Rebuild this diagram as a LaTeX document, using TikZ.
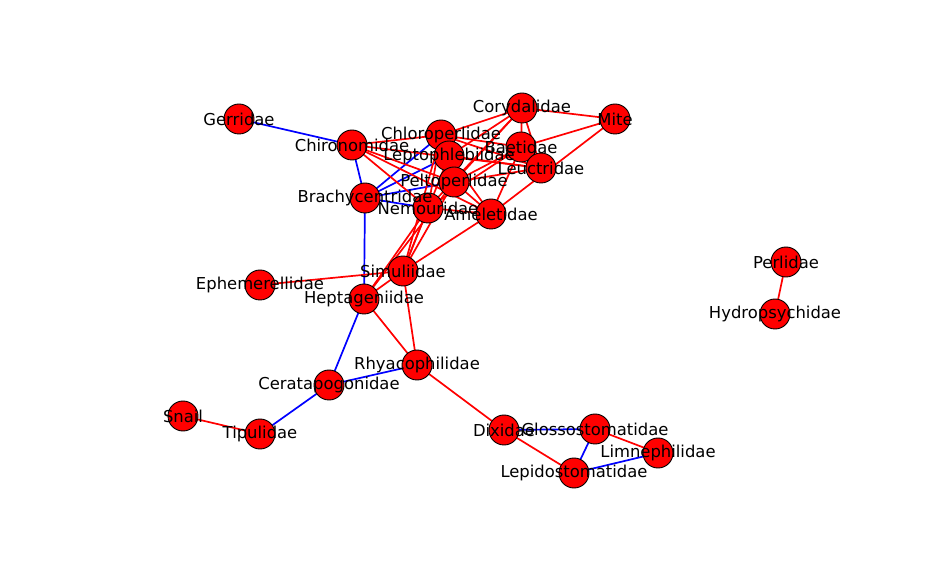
\documentclass[tikz,border=0pt]{standalone}
\usepackage{fontspec}
\setmainfont{DejaVu Sans}
\pgfdeclarelayer{edges}
\pgfsetlayers{edges,main}
\tikzset{
  vtx/.style={circle, fill=red, draw=black, line width=0.9pt, minimum size=30pt, inner sep=0pt},
  lbl/.style={inner sep=0pt, font=\fontsize{16.4}{18}\selectfont, text=black},
  redge/.style={draw=red, line width=1.7pt},
  bedge/.style={draw=blue, line width=1.7pt},
}
\begin{document}
\begin{tikzpicture}[x=1pt, y=-1pt]
\useasboundingbox (0,0) rectangle (946,577);
% vertices
\foreach \n/\x/\y in {
  Gerridae/239/119, Chironomidae/352/145, Chloroperlidae/441/135,
  Leptophlebiidae/449/156, Corydalidae/522/108, Mite/615/119,
  Baetidae/521/147, Leuctridae/541/168, Peltoperlidae/454/182,
  Brachycentridae/365/198, Nemouridae/428/208, Ameletidae/491/214,
  Simuliidae/403/271, Ephemerellidae/260/285, Heptageniidae/364/299,
  Rhyacophilidae/417/365, Ceratapogonidae/329/385, Snail/183/416,
  Tipulidae/260/434, Dixidae/504/430, Glossostomatidae/595/429,
  Limnephilidae/658/453, Lepidostomatidae/574/473,
  Perlidae/786/262, Hydropsychidae/775/314}
  \node[vtx] (\n) at (\x,\y) {};
% connectors
\begin{pgfonlayer}{edges}
\foreach \a/\b in {
  Gerridae/Chironomidae, Chironomidae/Brachycentridae,
  Brachycentridae/Chloroperlidae, Brachycentridae/Leptophlebiidae,
  Brachycentridae/Peltoperlidae, Brachycentridae/Nemouridae,
  Brachycentridae/Heptageniidae, Heptageniidae/Ceratapogonidae,
  Ceratapogonidae/Tipulidae, Ceratapogonidae/Rhyacophilidae,
  Dixidae/Glossostomatidae, Glossostomatidae/Lepidostomatidae,
  Lepidostomatidae/Limnephilidae}
  \draw[bedge] (\a.center) -- (\b.center);
\foreach \a/\b in {
  Snail/Tipulidae, Perlidae/Hydropsychidae,
  Ephemerellidae/Simuliidae, Simuliidae/Heptageniidae,
  Simuliidae/Rhyacophilidae, Heptageniidae/Rhyacophilidae,
  Rhyacophilidae/Dixidae, Dixidae/Lepidostomatidae,
  Glossostomatidae/Limnephilidae,
  Chironomidae/Chloroperlidae, Chironomidae/Leuctridae,
  Chironomidae/Peltoperlidae, Chironomidae/Nemouridae,
  Chironomidae/Ameletidae,
  Corydalidae/Mite, Corydalidae/Baetidae, Corydalidae/Leuctridae,
  Corydalidae/Chloroperlidae, Corydalidae/Leptophlebiidae,
  Corydalidae/Peltoperlidae, Corydalidae/Nemouridae,
  Mite/Baetidae, Mite/Ameletidae,
  Chloroperlidae/Baetidae, Chloroperlidae/Leuctridae,
  Chloroperlidae/Nemouridae, Chloroperlidae/Simuliidae,
  Leptophlebiidae/Leuctridae, Leptophlebiidae/Ameletidae,
  Leptophlebiidae/Simuliidae,
  Peltoperlidae/Baetidae, Peltoperlidae/Leuctridae,
  Peltoperlidae/Ameletidae, Peltoperlidae/Simuliidae,
  Peltoperlidae/Heptageniidae,
  Nemouridae/Ameletidae, Nemouridae/Simuliidae,
  Nemouridae/Heptageniidae, Nemouridae/Baetidae,
  Ameletidae/Simuliidae, Ameletidae/Baetidae}
  \draw[redge] (\a.center) -- (\b.center);
\end{pgfonlayer}
% labels
\foreach \n in {
  Gerridae, Chironomidae, Chloroperlidae, Leptophlebiidae, Corydalidae,
  Mite, Baetidae, Leuctridae, Peltoperlidae, Brachycentridae,
  Nemouridae, Ameletidae, Simuliidae, Ephemerellidae, Heptageniidae,
  Rhyacophilidae, Ceratapogonidae, Snail, Tipulidae, Dixidae,
  Glossostomatidae, Limnephilidae, Lepidostomatidae, Perlidae,
  Hydropsychidae}
  \node[lbl] (\n-t) at (\n) {\n};
\end{tikzpicture}
\end{document}
